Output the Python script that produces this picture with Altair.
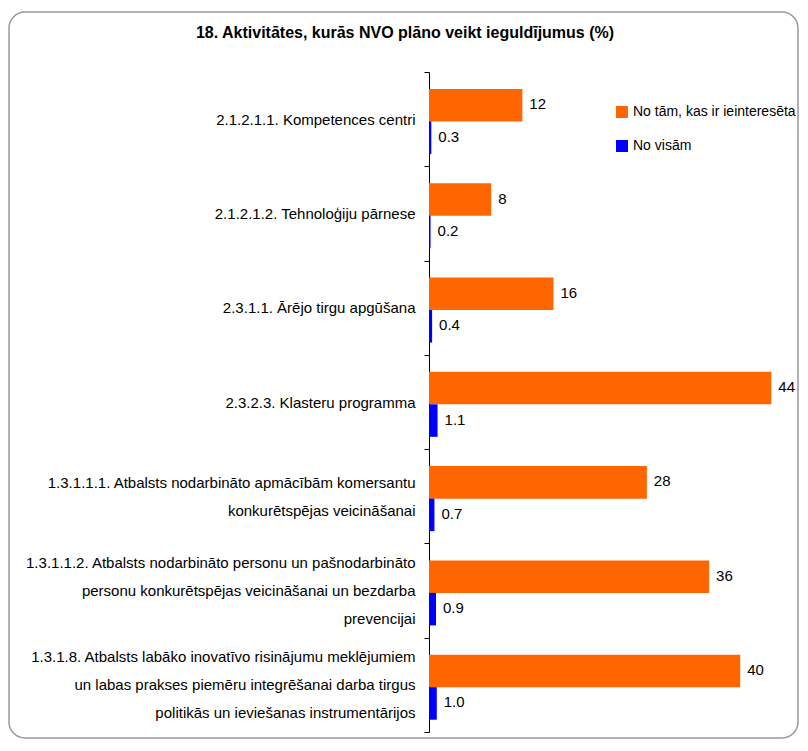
import altair as alt
import pandas as pd

title_text = "18. Aktivitātes, kurās NVO plāno veikt ieguldījumus (%)"
categories = [
    "2.1.2.1.1. Kompetences centri",
    "2.1.2.1.2. Tehnoloģiju pārnese",
    "2.3.1.1. Ārējo tirgu apgūšana",
    "2.3.2.3. Klasteru programma",
    "1.3.1.1.1. Atbalsts nodarbināto apmācībām komersantu|konkurētspējas veicināšanai",
    "1.3.1.1.2. Atbalsts nodarbināto personu un pašnodarbināto|personu konkurētspējas veicināšanai un bezdarba|prevencijai",
    "1.3.1.8. Atbalsts labāko inovatīvo risinājumu meklējumiem|un labas prakses piemēru integrēšanai darba tirgus|politikās un ieviešanas instrumentārijos",
]
series_names = ["No tām, kas ir ieinteresēta", "No visām"]
interested = [12, 8, 16, 44, 28, 36, 40]
all_ngo = [0.3, 0.2, 0.4, 1.1, 0.7, 0.9, 1.0]
series_colors = ["#FF6600", "#0000FF"]

rows = []
for c, a, b in zip(categories, interested, all_ngo):
    rows.append({"cat": c, "series": series_names[0], "value": a, "label": f"{a:d}"})
    rows.append({"cat": c, "series": series_names[1], "value": b, "label": f"{b:.1f}"})
df = pd.DataFrame(rows)

FONT = "Liberation Sans, Arial, sans-serif"
LINE_H = 28

y_enc = alt.Y(
    "cat:N",
    sort=categories,
    scale=alt.Scale(paddingInner=0, paddingOuter=0),
    axis=alt.Axis(
        title=None,
        labelExpr="split(datum.label, '|')",
        labelFont=FONT,
        labelFontSize=15,
        labelColor="#000000",
        labelLineHeight=LINE_H,
        labelAlign="right",
        labelBaseline="middle",
        labelLimit=0,
        labelPadding=9,
        labelOffset={
            "condition": [
                {"test": "length(split(datum.value, '|')) == 2", "value": -LINE_H / 2},
                {"test": "length(split(datum.value, '|')) == 3", "value": -LINE_H},
            ],
            "value": 0,
        },
        tickBand="extent",
        tickSize=5,
        tickColor="#000000",
        domainColor="#000000",
        domainWidth=1,
        grid=False,
    ),
)
yoff = alt.YOffset(
    "series:N",
    sort=series_names,
    scale=alt.Scale(paddingInner=0, paddingOuter=0.45, align=0.58),
)
x_enc = alt.X(
    "value:Q",
    scale=alt.Scale(domain=[0, 46.27], nice=False, zero=True),
    axis=None,
)

base = alt.Chart(df)

bars = base.mark_bar().encode(
    y=y_enc,
    yOffset=yoff,
    x=x_enc,
    color=alt.Color(
        "series:N",
        sort=series_names,
        scale=alt.Scale(domain=series_names, range=series_colors),
        legend=alt.Legend(
            title=None,
            orient="none",
            legendX=186,
            legendY=33,
            symbolType="square",
            symbolSize=144,
            symbolStrokeWidth=0,
            labelFont=FONT,
            labelFontSize=14,
            labelColor="#000000",
            labelLimit=0,
            labelOffset=4,
            rowPadding=20,
        ),
    ),
)

texts = base.mark_text(
    align="left", baseline="middle", dx=7, dy=-1, font=FONT, fontSize=15, color="#000000"
).encode(
    y=alt.Y("cat:N", sort=categories),
    yOffset=alt.YOffset("series:N", sort=series_names),
    x=alt.X("value:Q"),
    text="label:N",
)

deco = pd.DataFrame({"t": [title_text]})

frame = alt.Chart(deco).mark_rect(
    fill="#ffffff", fillOpacity=0, stroke="#999999", strokeWidth=1.5, cornerRadius=16
).encode(
    x=alt.value(-420), x2=alt.value(369), y=alt.value(-60), y2=alt.value(666)
)

title = alt.Chart(deco).mark_text(
    align="center", baseline="middle", font=FONT, fontSize=16, fontWeight="bold", color="#000000"
).encode(
    x=alt.value(-24), y=alt.value(-39), text="t:N"
)

chart = alt.layer(frame, title, bars, texts).properties(
    width=360,
    height=660,
    padding={"left": 0, "top": 3, "right": 0, "bottom": 0},
).configure_view(stroke=None)

chart.save("out.html", embed_options={"renderer": "svg", "actions": False})
